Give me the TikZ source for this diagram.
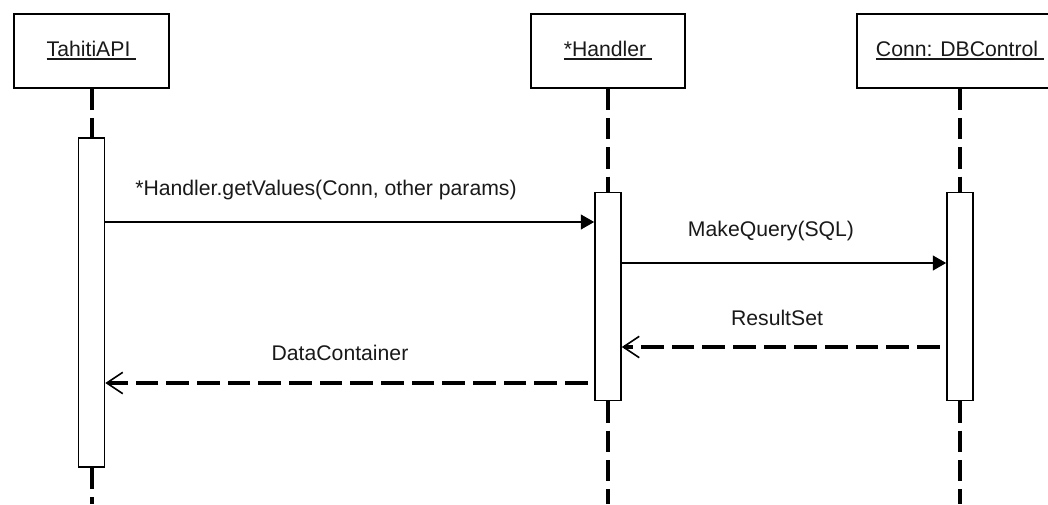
\documentclass[tikz,border=0pt]{standalone}
\usepackage{fontspec}
\setmainfont{Liberation Sans}
\usetikzlibrary{arrows.meta, positioning}

\newcommand{\objname}[1]{\setbox0\hbox{#1\ }\rlap{\rule[-2.4pt]{\wd0}{1.4pt}}\box0}

\begin{document}
\begin{tikzpicture}[x=0.75pt, y=-0.75pt,
        every node/.style={font=\fontsize{15.9}{18}\selectfont, text=black!90},
        objbox/.style={draw, line width=1.5pt, minimum height=55.5pt, inner sep=0pt},
        actbar/.style={draw, line width=1.2pt, fill=white, minimum width=19.5pt, inner sep=0pt},
        lifeline/.style={line width=3pt, dash pattern=on 16pt off 6pt},
        call/.style={line width=1.5pt, -{Triangle[length=10pt, width=11pt]}},
        reply/.style={line width=3pt, dash pattern=on 17pt off 6pt, shorten <=5pt,
            -{Straight Barb[length=12pt, width=16pt, line width=1.2pt]}}]
        \useasboundingbox (0,0) rectangle (1048,504);

        % Object row
        \node[objbox, minimum width=116pt] (api) at (91.5,50.5) {\objname{TahitiAPI}};
        \node[objbox, minimum width=116pt] (handler) at (608,50.5) {\objname{*Handler}};
        \node[objbox, minimum width=154.5pt] (conn) at (960,50.5) {\objname{Conn: DBControl}};

        % Activation bars
        \node[actbar, minimum height=246.75pt] (apiact) at (91.5,302.5) {};
        \node[actbar, minimum height=156pt] (handact) at (608,296.5) {};
        \node[actbar, minimum height=156pt] (connact) at (960,296.5) {};

        % Lifeline ends
        \coordinate (apiend) at (91.5,504);
        \coordinate (handend) at (608,504);
        \coordinate (connend) at (960,504);

        % Lifelines
        \draw[lifeline] (api) -- (apiact);
        \draw[lifeline] (apiact) -- (apiend);
        \draw[lifeline] (handler) -- (handact);
        \draw[lifeline] (handact) -- (handend);
        \draw[lifeline] (conn) -- (connact);
        \draw[lifeline] (connact) -- (connend);

        % Messages
        \draw[call] (apiact.east |- 0,222) -- (handact.west |- 0,222);
        \draw[call] (handact.east |- 0,263) -- (connact.west |- 0,263);
        \draw[reply] (connact.west |- 0,347) -- (handact.east |- 0,347);
        \draw[reply] (handact.west |- 0,383) -- (apiact.east |- 0,383);

        % Message labels
        \node[anchor=base] (getvalues) at (326,195) {*Handler.getValues(Conn, other params)};
        \node[anchor=base] (makequery) at (771,236) {MakeQuery(SQL)};
        \node[anchor=base] (resultset) at (777,325) {ResultSet};
        \node[anchor=base] (datacont) at (340,360) {DataContainer};
\end{tikzpicture}
\end{document}
